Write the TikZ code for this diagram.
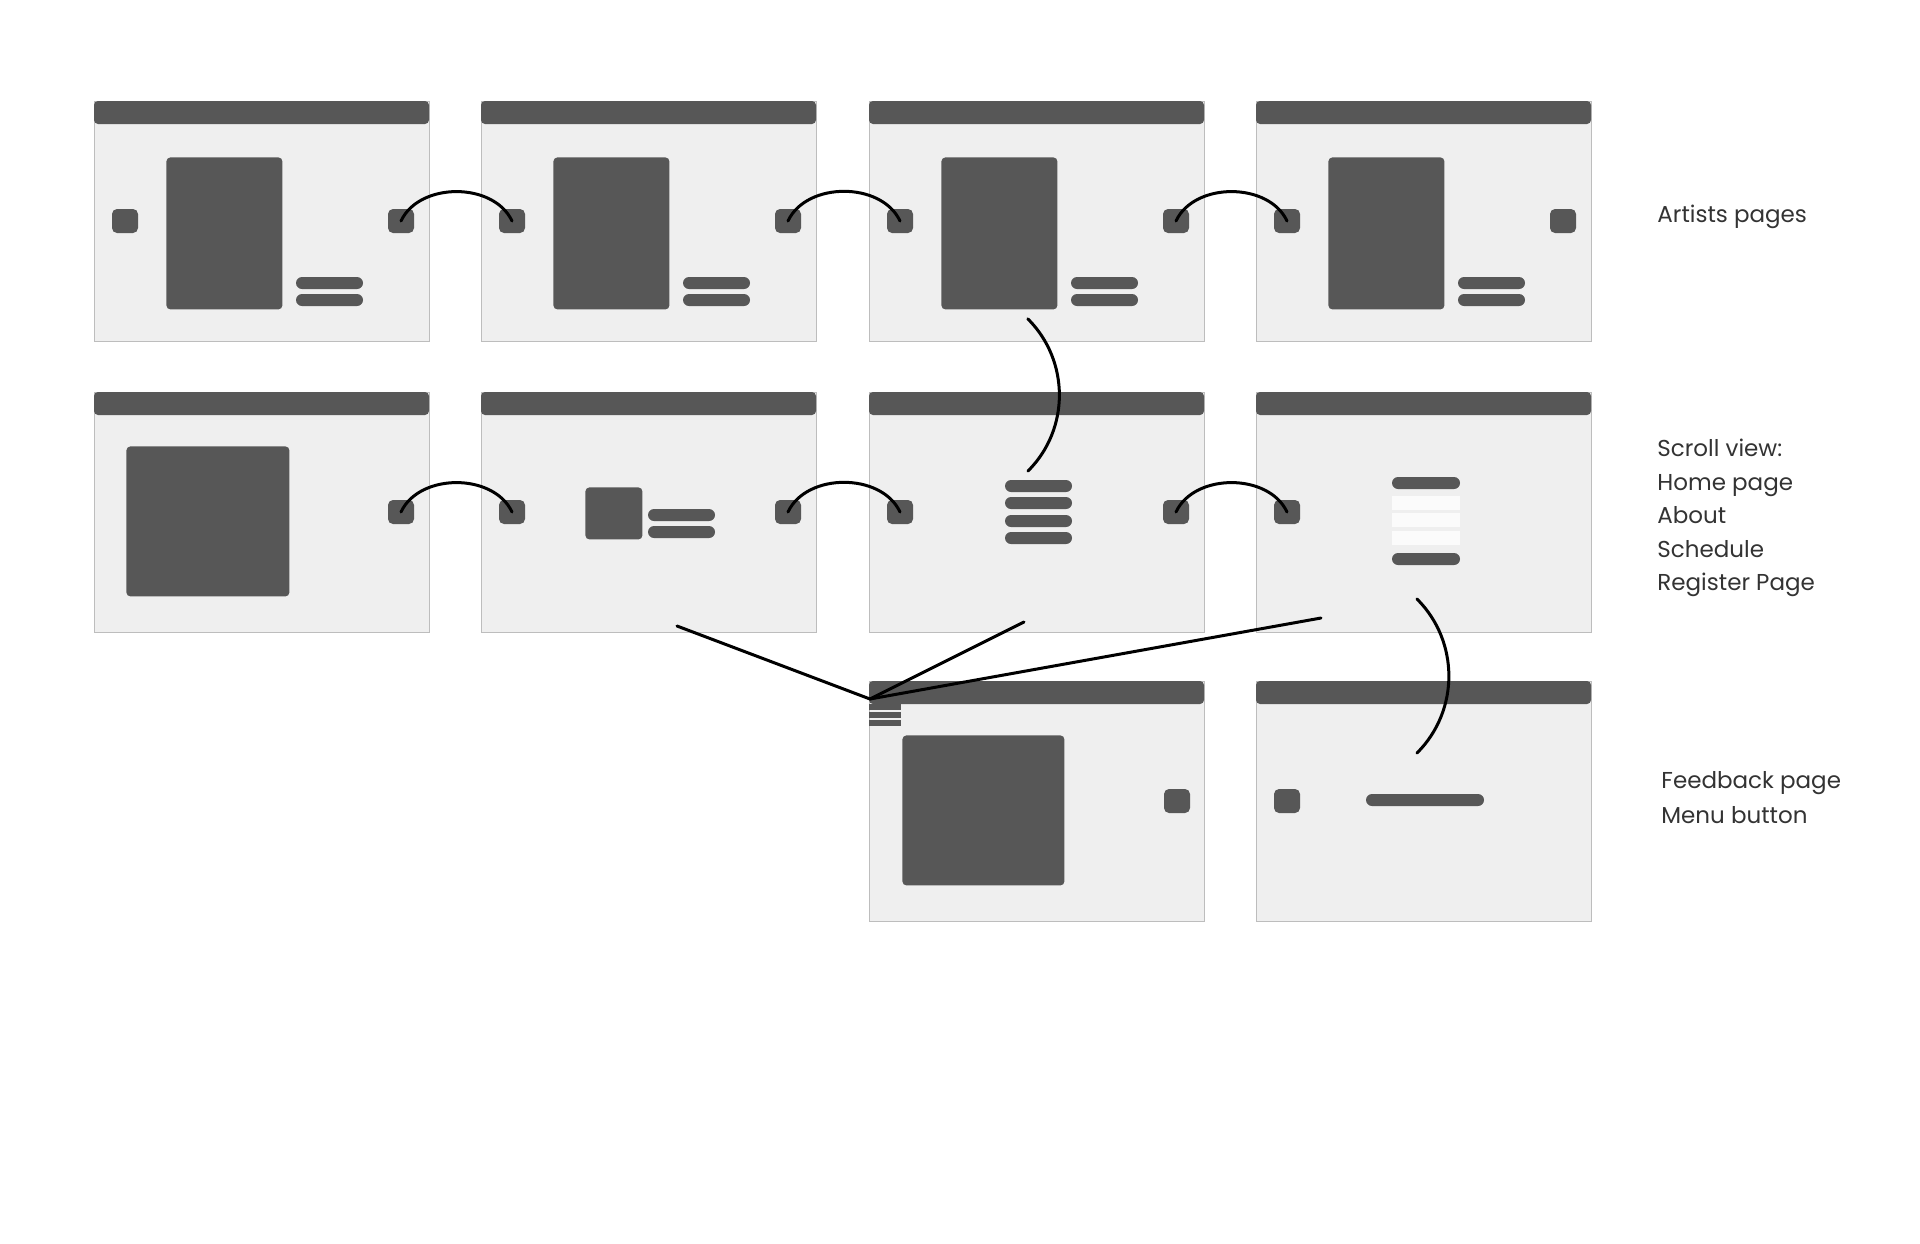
\documentclass[tikz,border=0pt]{standalone}
\usepackage{fontspec}
\setmainfont{Poppins}
\definecolor{oscuro}{HTML}{575757}
\definecolor{fondo}{HTML}{EFEFEF}
\definecolor{borde}{HTML}{BDBDBD}
\definecolor{claro}{HTML}{FBFBFB}

\tikzset{
  boton/.style={fill=oscuro, rounded corners=2.5pt, minimum width=13pt,
                minimum height=12pt, inner sep=0pt},
  imagen/.style={fill=oscuro, rounded corners=2pt, inner sep=0pt, anchor=north west},
  barra/.style={fill=oscuro, rounded corners=3pt},
  enlace/.style={line width=1.5pt, line cap=round},
  etiqueta/.style={anchor=base west, inner sep=0pt, text=black!80}
}

% ventana: #1 nombre, #2 x, #3 y (esquina superior izquierda, en px)
\newcommand{\ventana}[3]{%
  \coordinate (#1) at (#2,-#3);
  \draw[borde, fill=fondo, line width=0.5pt] (#2,-#3) rectangle ++(335,-240);
  \fill[oscuro, rounded corners=2pt] (#2,-#3) rectangle ++(335,-23);}

\begin{document}
\begin{tikzpicture}[x=0.5pt, y=0.5pt, font=\fontsize{11.5}{17}\selectfont]
  \useasboundingbox (0,0) rectangle (1920,-1243);
  \foreach \n/\px/\py in {1-1/94/101, 1-2/481/101, 1-3/869/101, 1-4/1256/101,
                          2-1/94/392, 2-2/481/392, 2-3/869/392, 2-4/1256/392,
                          3-3/869/681, 3-4/1256/681}
    {\ventana{v-\n}{\px}{\py}}

  % paginas de artistas
  \foreach \n in {1-1,1-2,1-3,1-4}
    {\node[boton] (izq-\n) at ([shift={(31,-120)}]v-\n) {};
     \node[boton] (der-\n) at ([shift={(307,-120)}]v-\n) {};
     \node[imagen, minimum width=58pt, minimum height=76pt] (img-\n) at ([shift={(72,-56)}]v-\n) {};
     \fill[barra] ([shift={(202,-176)}]v-\n) rectangle ++(67,-12);
     \fill[barra] ([shift={(202,-193)}]v-\n) rectangle ++(67,-12);}

  % scroll view
  \foreach \n in {2-2,2-3,2-4} \node[boton] (izq-\n) at ([shift={(31,-120)}]v-\n) {};
  \foreach \n in {2-1,2-2,2-3} \node[boton] (der-\n) at ([shift={(307,-120)}]v-\n) {};
  \node[imagen, minimum width=81.5pt, minimum height=75pt] (img-2-1) at ([shift={(32,-54)}]v-2-1) {};
  \node[imagen, minimum width=28.5pt, minimum height=26pt] (img-2-2) at ([shift={(104,-95)}]v-2-2) {};
  \fill[barra] ([shift={(167,-117)}]v-2-2) rectangle ++(67,-12);
  \fill[barra] ([shift={(167,-134)}]v-2-2) rectangle ++(67,-12);
  \foreach \y in {88,105,123,140}
    \fill[barra] ([shift={(136,-\y)}]v-2-3) rectangle ++(67,-12);
  \coordinate (menu-2-3) at ([shift={(159,-79)}]v-2-3);
  \fill[barra] ([shift={(136,-85)}]v-2-4) rectangle ++(68,-12);
  \foreach \y in {104,121,139}
    \fill[claro] ([shift={(136,-\y)}]v-2-4) rectangle ++(68,-14);
  \fill[barra] ([shift={(136,-161)}]v-2-4) rectangle ++(68,-12);

  % feedback y menu
  \foreach \y in {23,31,39}
    \fill[oscuro] ([shift={(0,-\y)}]v-3-3) rectangle ++(32,-6);
  \coordinate (hamb) at ([shift={(1,-18)}]v-3-3);
  \node[imagen, minimum width=81pt, minimum height=75pt] (img-3-3) at ([shift={(33,-54)}]v-3-3) {};
  \node[boton] (der-3-3) at ([shift={(308,-120)}]v-3-3) {};
  \node[boton] (izq-3-4) at ([shift={(31,-120)}]v-3-4) {};
  \fill[barra] ([shift={(110,-113)}]v-3-4) rectangle ++(118,-12);

  % conexiones
  \foreach \a/\b in {1-1/1-2, 1-2/1-3, 1-3/1-4, 2-1/2-2, 2-2/2-3, 2-3/2-4}
    \draw[enlace] (der-\a.center) to[out=65, in=115] (izq-\b.center);
  \coordinate (sal-1-3) at ([shift={(-30,-9)}]img-1-3.south east);
  \draw[enlace] (sal-1-3) to[out=-45, in=45] (menu-2-3);
  \coordinate (p-2-2) at ([shift={(196,-234)}]v-2-2);
  \coordinate (p-2-3) at ([shift={(155,-230)}]v-2-3);
  \coordinate (p-2-4) at ([shift={(65,-226)}]v-2-4);
  \foreach \p in {2-2,2-3,2-4} \draw[enlace] (p-\p) -- (hamb);
  \coordinate (sal-2-4) at ([shift={(161,-207)}]v-2-4);
  \coordinate (ent-3-4) at ([shift={(161,-72)}]v-3-4);
  \draw[enlace] (sal-2-4) to[out=-45, in=45] (ent-3-4);

  % etiquetas
  \foreach \n/\px/\py/\t in {art/1657/222/Artists pages, scr/1657/456/Scroll view:,
                             home/1657/490/Home page, about/1657/523/About,
                             sched/1657/557/Schedule, reg/1657/590/Register Page,
                             feed/1661/788/Feedback page, menu/1661/823/Menu button}
    \node[etiqueta] (lbl-\n) at (\px,-\py) {\t};
\end{tikzpicture}
\end{document}
